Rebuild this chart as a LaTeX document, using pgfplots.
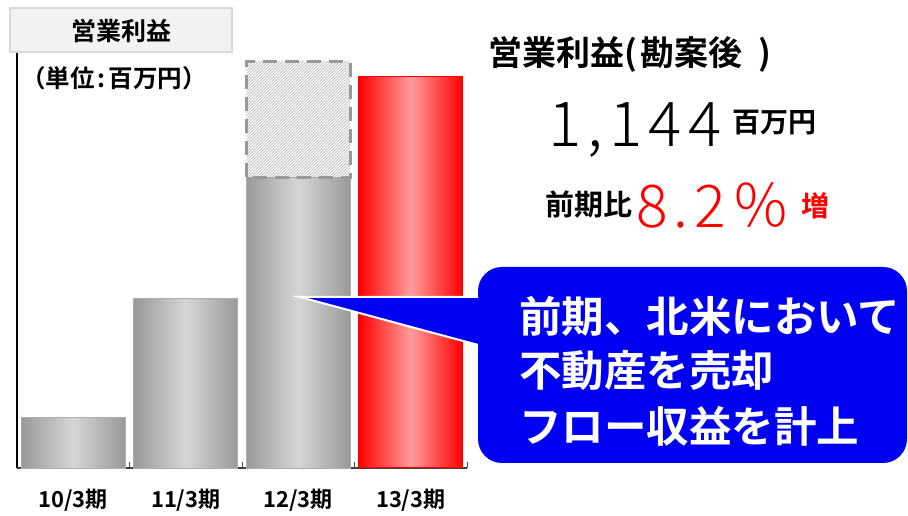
\documentclass[border=0pt]{standalone}
\usepackage{pgfplots}
\pgfplotsset{compat=1.18}
\usetikzlibrary{patterns}
\usepackage{fontspec}
\newfontfamily\jp{Noto Sans CJK JP}[BoldFont={Noto Sans CJK JP Bold}]
\IfFontExistsTF{Noto Sans CJK JP Light}
 {\newfontfamily\jplight{Noto Sans CJK JP Light}[LetterSpace=10]}
 {\newfontfamily\jplight{Noto Sans CJK JP}[LetterSpace=10]}
\definecolor{gedge}{HTML}{999999}
\definecolor{gmid}{HTML}{D6D6D6}
\definecolor{redge}{HTML}{FF0000}
\definecolor{rmid}{HTML}{FF9C9C}
\definecolor{callblue}{HTML}{0000F2}
\definecolor{boxfill}{HTML}{F2F2F2}
\definecolor{boxline}{HTML}{D9D9D9}
\pgfplotsset{
  graybar/.style={ybar, bar shift=0pt, bar width=0.924, draw=gedge!80, line width=0.6pt,
    left color=gedge, right color=gedge, middle color=gmid},
}
\begin{document}
\begin{tikzpicture}[x=1pt,y=1pt]
\fill[white] (0pt,0pt) rectangle (908pt,510pt);
\begin{axis}[
  at={(17pt,42pt)}, anchor=south west,
  width=450pt, height=415pt, scale only axis,
  xmin=-0.5, xmax=3.5, ymin=0, ymax=1214,
  axis x line=bottom, axis y line=left,
  x axis line style={-, draw=black!75, line width=1.8pt},
  y axis line style={-, draw=black, line width=1.2pt},
  ytick=\empty,
  xtick={0,1,2,3},
  xticklabels={10/3期,11/3期,12/3期,13/3期},
  major tick length=0pt,
  minor xtick={0.5,1.5,2.5,3.5},
  minor tick length=6pt,
  tick align=inside,
  minor tick style={draw=black!70, line width=0.8pt},
  xticklabel style={font=\jp\bfseries\fontsize{22}{24}\selectfont, anchor=base, yshift=-40pt},
  clip=false,
]
\addplot[graybar] coordinates {(0,149)};
\addplot[graybar] coordinates {(1,497)};
\addplot[graybar] coordinates {(2,851)};
\addplot[ybar, bar shift=0pt, bar width=0.924, draw=red, line width=1pt,
  left color=redge, right color=redge, middle color=rmid]
  coordinates {(3,1144)};
\addplot[draw=gedge, line width=3pt, dash pattern=on 14pt off 8pt,
  preaction={fill=white}, pattern=north east lines, pattern color=gray!85]
  coordinates {(1.538,851) (1.538,1188) (2.462,1188) (2.462,851)} -- cycle;
\end{axis}
% callout
\fill[callblue, rounded corners=24pt] (478pt,47pt) rectangle (907pt,243pt);
\fill[callblue] (482pt,213pt) -- (300pt,213pt) -- (482pt,165pt) -- cycle;
\draw[white, line width=2pt] (478pt,213pt) -- (300pt,213pt) -- (478pt,165pt);
\node[anchor=west, inner sep=0, text=white, font=\jp\bfseries\fontsize{42.5}{42}\selectfont] at (519pt,194pt) {前期、北米において};
\node[anchor=west, inner sep=0, text=white, font=\jp\bfseries\fontsize{42.5}{42}\selectfont] at (519pt,139pt) {不動産を売却};
\node[anchor=west, inner sep=0, text=white, font=\jp\bfseries\fontsize{42.5}{42}\selectfont] at (519pt,84pt) {フロー収益を計上};
% title box
\draw[boxline, fill=boxfill, line width=2pt] (10pt,458pt) rectangle (232pt,502pt);
\node[font=\jp\bfseries\fontsize{25}{25}\selectfont] at (121pt,479pt) {営業利益};
\node[anchor=west, inner sep=0, font=\jp\bfseries\fontsize{24.5}{25}\selectfont] at (21pt,432pt) {（単位\hspace{3pt}:\hspace{3pt}百万円）};
% right texts
\node[anchor=west, inner sep=0, font=\jp\bfseries\fontsize{34}{34}\selectfont] at (488pt,456pt) {営業利益(\hspace{3pt}勘案後\hspace{16pt})};
\node[anchor=base west, inner sep=0, font=\jplight\fontsize{62}{62}\selectfont] at (548pt,363pt) {1,144};
\node[anchor=west, inner sep=0, font=\jp\bfseries\fontsize{28}{28}\selectfont] at (732pt,387.5pt) {百万円};
\node[anchor=west, inner sep=0, font=\jp\bfseries\fontsize{29}{29}\selectfont] at (545pt,305.5pt) {前期比};
\node[anchor=base west, inner sep=0, text=red, font=\jplight\fontsize{59}{59}\selectfont] at (636pt,282pt) {8.2％};
\node[anchor=west, inner sep=0, text=red, font=\jp\bfseries\fontsize{28}{28}\selectfont] at (801pt,304pt) {増};
\end{tikzpicture}
\end{document}
